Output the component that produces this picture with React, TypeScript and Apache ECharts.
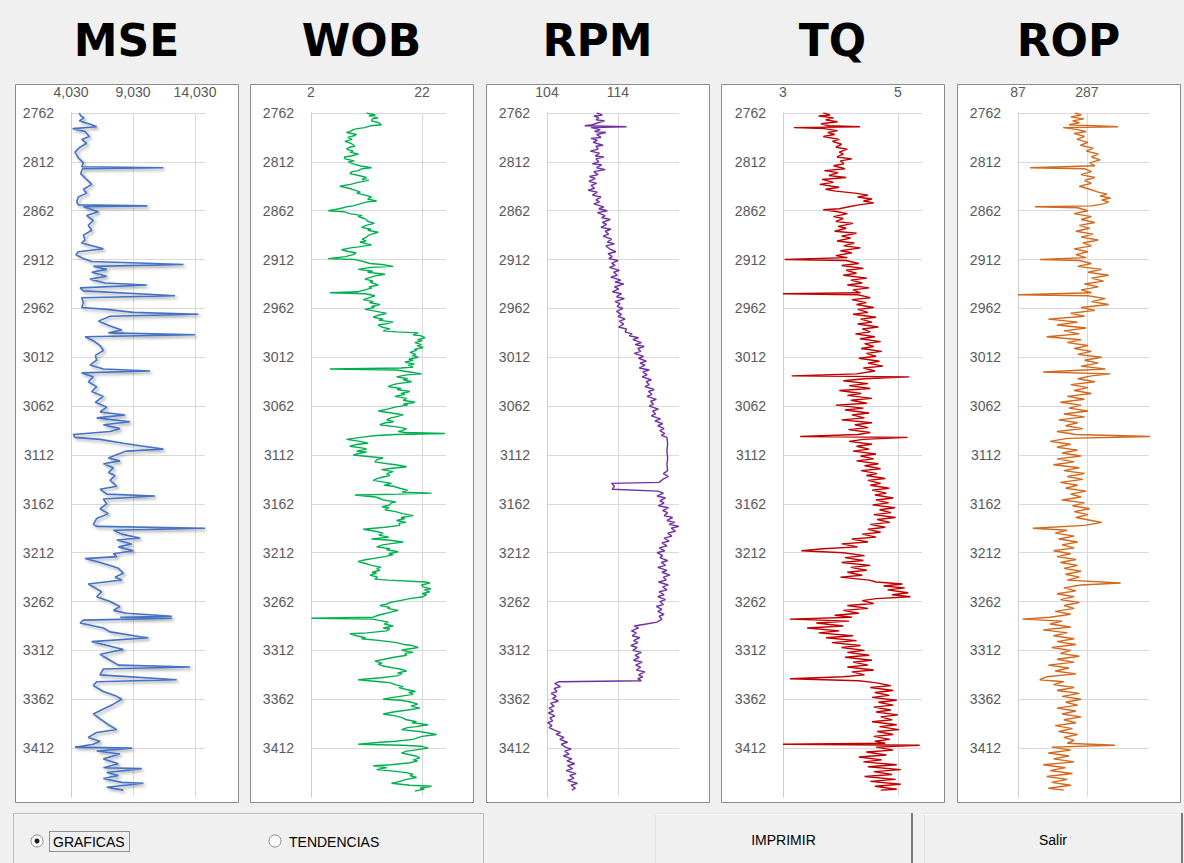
import React, { useEffect, useRef } from "react";
import * as echarts from "echarts";

// Depth axis (shared by every track)
const DEPTH_MIN = 2762;
const DEPTH_MAX = 3462;
const DEPTH_STEP = 50;

// Track titles and horizontal axis ranges
const TITLES = ["MSE", "WOB", "RPM", "TQ", "ROP"];
const AXIS_MIN = [4030, 2, 104, 3, 87];
const AXIS_STEP = [5000, 20, 10, 2, 200];
const AXIS_MAX = [14836, 26.3, 122.6, 5.42, 467];
const COLORS = ["#4472C4", "#00B050", "#7030A0", "#C00000", "#D2691E"];

// [depth, value] samples per track
const MSE_LOG: [number, number][] = [
  [2762, 4700], [2765, 4810], [2767, 5080], [2770, 4700], [2774, 5700], [2776, 6100], [2778, 4160], [2781, 5160],
  [2786, 5510], [2789, 4890], [2793, 5290], [2797, 4760], [2802, 4350], [2808, 4620], [2813, 5030], [2817, 4890],
  [2818, 11480], [2819, 4970], [2824, 4810], [2830, 5290], [2835, 5700], [2840, 5030], [2844, 5290], [2848, 4620],
  [2853, 4490], [2856, 4620], [2857, 10190], [2858, 5030], [2863, 6240], [2867, 5290], [2872, 5830], [2877, 5420],
  [2882, 5700], [2887, 5030], [2892, 5160], [2895, 4890], [2901, 6640], [2904, 4620], [2907, 4430], [2911, 5030],
  [2914, 5700], [2917, 13100], [2919, 5830], [2922, 6910], [2925, 5700], [2929, 6910], [2932, 5560], [2936, 6770],
  [2938, 10140], [2941, 4760], [2944, 5030], [2949, 12420], [2951, 4890], [2956, 5030], [2961, 4890], [2963, 6910],
  [2966, 9060], [2968, 14300], [2970, 7180], [2975, 6240], [2980, 7180], [2984, 8120], [2987, 7040], [2989, 14030],
  [2991, 5160], [2995, 5830], [3000, 6370], [3005, 6640], [3010, 6000], [3015, 6100], [3020, 5560], [3024, 6640],
  [3026, 10400], [3028, 4890], [3032, 5830], [3037, 5420], [3042, 6100], [3047, 5700], [3052, 6640], [3058, 6000],
  [3063, 6910], [3068, 6370], [3071, 8390], [3074, 6100], [3078, 8790], [3081, 6640], [3085, 7980], [3088, 7180],
  [3091, 4220], [3094, 4350], [3096, 6370], [3100, 8250], [3103, 9870], [3106, 11480], [3108, 8500], [3111, 7850],
  [3115, 7040], [3118, 7980], [3121, 6640], [3125, 7450], [3130, 7040], [3133, 7580], [3138, 7180], [3144, 7720],
  [3147, 6370], [3152, 6910], [3154, 10810], [3157, 6640], [3162, 6910], [3167, 6370], [3172, 7040], [3177, 6100],
  [3183, 5830], [3185, 6100], [3187, 14840], [3189, 7450], [3193, 8120], [3197, 9600], [3199, 7720], [3203, 8920],
  [3206, 7850], [3210, 9060], [3213, 7450], [3216, 7720], [3218, 5160], [3221, 6100], [3225, 7180], [3228, 7850],
  [3233, 8250], [3237, 7580], [3240, 8120], [3244, 5420], [3247, 5830], [3252, 6500], [3257, 6100], [3262, 7180],
  [3267, 7980], [3271, 7450], [3274, 8520], [3277, 12150], [3278, 8000], [3279, 12150], [3281, 5030], [3284, 4760],
  [3289, 6640], [3293, 7180], [3298, 9600], [3299, 10270], [3303, 5700], [3306, 6640], [3311, 8250], [3316, 6370],
  [3321, 7040], [3327, 7850], [3329, 13630], [3331, 6640], [3337, 6370], [3342, 12560], [3344, 6100], [3348, 5830],
  [3354, 6640], [3359, 7720], [3362, 8120], [3367, 7450], [3372, 6640], [3377, 5830], [3382, 6370], [3388, 7040],
  [3393, 7720], [3396, 6100], [3401, 5420], [3405, 6370], [3408, 5830], [3411, 4350], [3412, 8960], [3415, 6100],
  [3418, 7980], [3423, 6640], [3428, 7850], [3432, 6640], [3433, 9730], [3437, 6910], [3440, 7850], [3443, 6640],
  [3447, 8120], [3448, 9870], [3452, 6910], [3455, 8250],
];

const WOB_LOG: [number, number][] = [
  [2762, 12.0], [2764, 13.6], [2765, 12.4], [2767, 14.1], [2768, 13.0], [2770, 12.9], [2772, 14.2], [2774, 14.7],
  [2775, 12.8], [2777, 11.7], [2778, 10.4], [2779, 9.6], [2781, 9.0], [2782, 8.4], [2784, 10.2], [2785, 9.9],
  [2787, 8.6], [2789, 9.4], [2791, 8.1], [2793, 9.2], [2796, 9.9], [2797, 8.9], [2799, 8.4], [2801, 9.6],
  [2802, 9.0], [2804, 10.5], [2806, 9.2], [2807, 8.0], [2809, 8.1], [2811, 9.8], [2812, 8.7], [2814, 9.6],
  [2816, 10.8], [2818, 12.9], [2819, 11.2], [2821, 10.5], [2822, 9.4], [2824, 9.0], [2826, 10.6], [2828, 12.0],
  [2830, 11.2], [2831, 12.4], [2833, 10.5], [2835, 9.1], [2837, 7.2], [2839, 8.8], [2841, 9.9], [2843, 10.9],
  [2844, 10.2], [2846, 11.7], [2848, 12.9], [2850, 12.2], [2852, 13.8], [2853, 12.1], [2855, 10.8], [2857, 9.6],
  [2858, 8.4], [2860, 7.1], [2862, 5.1], [2863, 7.9], [2865, 9.0], [2867, 11.2], [2868, 10.5], [2870, 11.6],
  [2873, 12.3], [2875, 13.4], [2877, 11.9], [2879, 11.1], [2881, 12.8], [2882, 12.2], [2884, 14.1], [2886, 13.0],
  [2887, 12.4], [2889, 12.0], [2891, 11.2], [2893, 11.9], [2894, 10.8], [2896, 12.1], [2897, 12.9], [2899, 10.6],
  [2900, 9.1], [2902, 7.5], [2904, 8.9], [2905, 10.1], [2907, 9.6], [2909, 8.2], [2911, 5.1], [2912, 9.9],
  [2914, 11.4], [2916, 12.6], [2917, 14.8], [2919, 16.8], [2920, 12.9], [2922, 10.5], [2924, 13.1], [2925, 12.2],
  [2927, 15.3], [2929, 13.4], [2930, 12.8], [2932, 11.7], [2934, 13.2], [2935, 12.6], [2938, 14.1], [2940, 12.4],
  [2941, 13.0], [2943, 11.7], [2945, 10.4], [2946, 5.4], [2947, 11.8], [2949, 13.5], [2951, 12.6], [2953, 11.4],
  [2955, 13.2], [2956, 12.5], [2958, 14.4], [2960, 12.9], [2961, 13.4], [2963, 11.7], [2965, 13.8], [2967, 15.6],
  [2969, 14.1], [2971, 13.2], [2973, 15.0], [2974, 14.2], [2976, 16.8], [2978, 15.2], [2979, 14.1], [2981, 14.7],
  [2983, 16.2], [2985, 15.0], [2986, 17.5], [2987, 21.3], [2989, 20.4], [2990, 21.8], [2992, 22.5], [2994, 21.2],
  [2995, 22.0], [2997, 20.7], [2999, 21.9], [3000, 21.1], [3002, 22.2], [3004, 20.6], [3005, 21.0], [3007, 19.8],
  [3009, 20.9], [3010, 20.2], [3012, 21.3], [3014, 19.6], [3015, 20.4], [3017, 18.9], [3019, 20.6], [3020, 19.5],
  [3022, 20.4], [3023, 18.2], [3024, 5.4], [3025, 17.4], [3027, 19.8], [3029, 21.9], [3030, 19.2], [3032, 17.4],
  [3034, 19.4], [3035, 18.6], [3037, 20.1], [3039, 17.6], [3040, 16.8], [3042, 15.9], [3044, 18.2], [3045, 17.5],
  [3047, 19.8], [3049, 18.2], [3050, 18.9], [3052, 17.1], [3054, 19.2], [3056, 18.6], [3058, 20.7], [3060, 18.6],
  [3061, 19.4], [3063, 17.1], [3065, 15.8], [3067, 14.1], [3069, 16.5], [3071, 18.6], [3073, 17.2], [3074, 16.4],
  [3076, 15.6], [3078, 16.9], [3079, 15.4], [3081, 14.4], [3083, 17.1], [3085, 19.2], [3087, 18.4], [3088, 17.7],
  [3089, 19.0], [3090, 26.1], [3091, 17.2], [3092, 13.8], [3094, 10.9], [3096, 8.4], [3098, 10.8], [3100, 12.3],
  [3101, 10.4], [3103, 9.0], [3105, 11.4], [3106, 12.0], [3108, 10.2], [3109, 12.0], [3110, 11.0], [3112, 9.6],
  [3114, 13.2], [3115, 15.0], [3117, 13.8], [3119, 13.5], [3121, 15.8], [3122, 17.2], [3124, 19.2], [3126, 15.9],
  [3127, 14.7], [3129, 16.8], [3131, 15.6], [3133, 16.2], [3135, 14.6], [3136, 14.0], [3138, 13.2], [3140, 15.4],
  [3141, 16.5], [3143, 15.2], [3144, 16.8], [3146, 18.0], [3148, 19.4], [3150, 18.4], [3151, 23.7], [3152, 17.6],
  [3153, 9.9], [3155, 13.6], [3156, 14.2], [3158, 15.0], [3160, 17.3], [3161, 16.4], [3163, 16.2], [3165, 14.8],
  [3166, 16.0], [3168, 15.3], [3170, 17.2], [3172, 18.5], [3174, 20.4], [3176, 18.2], [3177, 18.9], [3179, 17.4],
  [3181, 19.1], [3182, 17.8], [3184, 18.0], [3186, 15.3], [3188, 11.4], [3190, 13.6], [3192, 15.0], [3194, 14.2],
  [3196, 16.0], [3198, 12.9], [3199, 15.8], [3201, 18.6], [3203, 16.1], [3204, 14.9], [3206, 13.8], [3208, 16.2],
  [3209, 15.6], [3211, 17.7], [3213, 16.0], [3214, 16.8], [3216, 15.3], [3218, 13.1], [3219, 12.0], [3221, 10.5],
  [3223, 11.8], [3225, 12.9], [3227, 14.6], [3228, 13.8], [3230, 14.4], [3232, 13.0], [3233, 13.8], [3235, 12.6],
  [3237, 14.0], [3239, 13.5], [3240, 15.9], [3242, 22.6], [3243, 23.4], [3245, 21.9], [3247, 22.2], [3249, 23.6],
  [3250, 22.4], [3252, 23.4], [3254, 22.0], [3255, 22.8], [3257, 22.2], [3259, 19.8], [3261, 18.0], [3263, 16.2],
  [3265, 15.4], [3266, 14.4], [3268, 16.2], [3269, 15.8], [3271, 17.7], [3273, 16.2], [3274, 15.6], [3276, 14.1],
  [3278, 13.2], [3279, 2.1], [3280, 12.9], [3281, 14.1], [3283, 15.9], [3285, 15.2], [3287, 16.8], [3289, 15.0],
  [3290, 16.2], [3292, 15.6], [3294, 12.1], [3295, 9.0], [3297, 10.2], [3299, 11.8], [3300, 11.1], [3302, 14.6],
  [3304, 17.4], [3306, 18.8], [3307, 20.2], [3309, 21.3], [3311, 19.0], [3312, 18.3], [3314, 20.4], [3315, 18.9],
  [3317, 19.2], [3319, 17.0], [3321, 15.2], [3323, 13.5], [3325, 14.8], [3326, 14.1], [3328, 15.0], [3330, 16.9],
  [3331, 18.0], [3333, 19.2], [3335, 17.6], [3336, 18.4], [3338, 17.4], [3340, 14.6], [3342, 10.5], [3344, 14.4],
  [3345, 16.2], [3347, 17.1], [3349, 18.6], [3350, 17.8], [3352, 19.2], [3354, 20.8], [3355, 19.6], [3357, 20.4],
  [3359, 18.0], [3360, 16.8], [3362, 15.0], [3363, 18.2], [3365, 20.1], [3367, 21.2], [3369, 20.0], [3371, 21.6],
  [3373, 19.4], [3375, 16.8], [3377, 15.0], [3379, 17.2], [3381, 18.5], [3383, 19.2], [3385, 21.0], [3386, 20.2],
  [3388, 23.1], [3390, 20.9], [3391, 19.4], [3393, 18.3], [3395, 21.4], [3396, 22.6], [3398, 24.6], [3400, 22.0],
  [3401, 21.4], [3403, 20.4], [3405, 17.2], [3406, 14.6], [3408, 10.5], [3409, 18.4], [3410, 21.8], [3412, 23.1],
  [3414, 20.6], [3415, 19.2], [3417, 18.3], [3419, 20.0], [3420, 20.8], [3422, 21.6], [3424, 20.4], [3425, 21.2],
  [3427, 19.8], [3429, 16.4], [3430, 13.2], [3432, 15.6], [3434, 13.8], [3435, 16.0], [3437, 19.2], [3439, 20.4],
  [3440, 19.8], [3442, 21.0], [3444, 19.2], [3446, 18.0], [3448, 16.5], [3450, 19.8], [3451, 23.7], [3453, 21.6],
  [3454, 22.4], [3456, 20.7],
];

const RPM_LOG: [number, number][] = [
  [2762, 111.0], [2764, 111.8], [2765, 110.6], [2767, 111.3], [2769, 110.9], [2770, 112.1], [2772, 111.2], [2774, 110.4],
  [2775, 109.3], [2776, 115.2], [2777, 110.2], [2779, 111.5], [2781, 110.7], [2782, 112.3], [2784, 111.0], [2787, 111.6],
  [2788, 110.2], [2790, 111.1], [2792, 110.5], [2795, 111.9], [2796, 110.9], [2799, 111.2], [2801, 110.1], [2803, 111.4],
  [2806, 110.8], [2807, 112.0], [2809, 110.9], [2812, 111.3], [2814, 110.4], [2815, 111.7], [2818, 111.0], [2820, 112.2],
  [2822, 110.6], [2825, 111.2], [2827, 110.0], [2829, 110.8], [2832, 109.9], [2834, 111.0], [2836, 110.2], [2839, 110.7],
  [2841, 109.8], [2843, 111.1], [2846, 110.4], [2848, 111.6], [2851, 110.9], [2853, 111.4], [2855, 110.6], [2858, 112.0],
  [2860, 111.3], [2862, 112.5], [2864, 111.1], [2867, 112.2], [2869, 111.7], [2871, 112.9], [2874, 111.8], [2876, 112.4],
  [2879, 111.6], [2881, 113.0], [2883, 112.2], [2886, 112.7], [2888, 111.9], [2891, 113.1], [2894, 112.5], [2896, 113.5],
  [2898, 112.3], [2901, 112.8], [2904, 113.7], [2906, 112.6], [2909, 113.2], [2911, 112.7], [2913, 114.0], [2916, 113.1],
  [2918, 113.6], [2920, 112.8], [2923, 114.2], [2925, 113.4], [2928, 113.9], [2930, 113.0], [2933, 114.4], [2935, 113.6],
  [2937, 114.8], [2940, 113.5], [2942, 114.1], [2945, 113.2], [2947, 114.5], [2950, 113.8], [2952, 114.9], [2955, 113.6],
  [2957, 114.3], [2960, 113.9], [2962, 114.7], [2965, 113.8], [2968, 114.5], [2970, 114.0], [2973, 115.0], [2975, 114.2],
  [2978, 114.8], [2981, 114.1], [2983, 115.2], [2986, 115.0], [2988, 116.0], [2990, 115.6], [2992, 116.9], [2994, 116.1],
  [2997, 117.3], [2999, 116.4], [3001, 117.7], [3003, 116.8], [3006, 117.2], [3008, 116.3], [3011, 117.6], [3013, 116.9],
  [3016, 118.0], [3018, 117.1], [3020, 117.8], [3023, 117.0], [3025, 118.4], [3027, 117.5], [3030, 118.1], [3032, 117.4],
  [3035, 118.7], [3037, 118.0], [3040, 118.4], [3042, 117.8], [3045, 119.1], [3047, 118.3], [3050, 118.8], [3052, 118.1],
  [3055, 119.4], [3057, 118.6], [3060, 119.0], [3062, 118.4], [3065, 119.7], [3067, 118.9], [3070, 119.3], [3072, 118.7],
  [3075, 120.0], [3077, 119.2], [3080, 120.3], [3082, 119.6], [3085, 120.5], [3087, 119.9], [3090, 120.6], [3092, 120.1],
  [3094, 120.9], [3100, 121.0], [3108, 120.9], [3115, 121.0], [3122, 120.9], [3128, 121.0], [3131, 120.4], [3134, 121.1],
  [3137, 120.3], [3140, 119.8], [3141, 113.1], [3144, 113.5], [3147, 113.2], [3149, 119.6], [3151, 120.4], [3154, 119.5],
  [3156, 120.7], [3159, 119.9], [3161, 120.5], [3164, 119.7], [3166, 121.1], [3169, 120.3], [3171, 121.0], [3174, 120.5],
  [3176, 121.7], [3179, 120.9], [3181, 122.0], [3183, 121.2], [3185, 122.6], [3187, 121.5], [3190, 122.1], [3192, 121.0],
  [3195, 121.6], [3197, 120.5], [3200, 121.2], [3202, 120.2], [3205, 120.9], [3207, 119.8], [3210, 120.6], [3212, 119.5],
  [3215, 120.3], [3217, 119.9], [3220, 121.0], [3222, 120.1], [3225, 120.7], [3227, 119.6], [3230, 120.9], [3232, 120.2],
  [3235, 121.3], [3237, 120.4], [3240, 120.8], [3242, 119.7], [3245, 121.1], [3247, 120.3], [3250, 120.9], [3252, 119.8],
  [3255, 120.5], [3257, 119.6], [3260, 120.7], [3262, 119.9], [3265, 120.4], [3267, 119.4], [3270, 120.2], [3272, 119.6],
  [3275, 120.5], [3277, 119.8], [3280, 120.2], [3283, 119.5], [3285, 118.0], [3287, 116.3], [3289, 116.9], [3292, 115.9],
  [3294, 116.6], [3297, 116.0], [3299, 117.1], [3302, 116.2], [3304, 116.8], [3307, 115.8], [3309, 116.7], [3312, 116.1],
  [3314, 117.3], [3317, 116.4], [3319, 117.0], [3322, 116.2], [3324, 117.4], [3327, 116.5], [3329, 117.2], [3332, 116.6],
  [3334, 117.8], [3337, 116.9], [3339, 117.5], [3341, 116.8], [3343, 117.3], [3344, 105.7], [3346, 105.1], [3349, 105.9],
  [3351, 105.0], [3354, 105.4], [3356, 104.6], [3359, 105.3], [3361, 104.8], [3364, 105.6], [3366, 104.5], [3369, 105.0],
  [3371, 104.3], [3374, 104.9], [3376, 104.2], [3379, 105.1], [3381, 104.4], [3384, 104.8], [3386, 104.1], [3389, 104.7],
  [3391, 104.3], [3394, 105.2], [3396, 105.9], [3398, 105.3], [3401, 106.4], [3403, 105.8], [3406, 106.9], [3408, 106.0],
  [3411, 106.6], [3413, 107.4], [3415, 106.5], [3418, 107.1], [3420, 106.3], [3423, 107.5], [3425, 106.8], [3428, 107.9],
  [3430, 106.9], [3433, 107.6], [3435, 106.7], [3438, 108.1], [3440, 107.2], [3443, 107.8], [3445, 106.9], [3448, 108.3],
  [3450, 107.4], [3453, 108.0], [3455, 107.5],
];

const TQ_LOG: [number, number][] = [
  [2762, 3.7], [2764, 3.82], [2765, 3.62], [2767, 3.88], [2769, 3.74], [2771, 3.95], [2773, 3.66], [2775, 3.8],
  [2776, 4.34], [2777, 3.19], [2778, 3.72], [2780, 3.95], [2782, 3.78], [2784, 3.9], [2786, 3.7], [2789, 3.98],
  [2791, 3.86], [2794, 4.02], [2797, 3.92], [2799, 4.12], [2802, 3.98], [2804, 4.05], [2807, 3.94], [2809, 4.2],
  [2811, 4.0], [2814, 4.06], [2816, 3.88], [2819, 4.08], [2821, 3.72], [2823, 3.96], [2826, 3.8], [2828, 4.1],
  [2830, 3.68], [2833, 3.88], [2835, 3.64], [2838, 3.98], [2840, 3.74], [2842, 3.92], [2844, 4.25], [2846, 4.48],
  [2848, 4.3], [2850, 4.55], [2852, 4.4], [2854, 4.58], [2856, 4.32], [2858, 4.15], [2860, 3.98], [2861, 3.7],
  [2863, 3.95], [2865, 4.12], [2868, 3.88], [2870, 4.05], [2873, 3.92], [2875, 4.22], [2878, 3.96], [2880, 4.1],
  [2883, 3.9], [2885, 4.28], [2888, 4.02], [2890, 4.18], [2893, 3.94], [2895, 4.24], [2898, 4.06], [2900, 4.35],
  [2903, 4.0], [2905, 4.2], [2908, 3.92], [2910, 4.12], [2912, 3.03], [2913, 4.1], [2916, 4.32], [2918, 4.02],
  [2921, 4.4], [2923, 4.1], [2926, 4.28], [2928, 4.05], [2931, 4.46], [2933, 4.18], [2936, 4.38], [2938, 4.12],
  [2941, 4.5], [2943, 4.22], [2946, 4.35], [2947, 3.0], [2948, 4.3], [2951, 4.52], [2953, 4.2], [2956, 4.45],
  [2958, 4.28], [2961, 4.58], [2963, 4.3], [2966, 4.48], [2968, 4.22], [2971, 4.62], [2973, 4.35], [2976, 4.55],
  [2978, 4.3], [2981, 4.66], [2983, 4.38], [2986, 4.52], [2988, 4.26], [2991, 4.6], [2993, 4.34], [2996, 4.7],
  [2998, 4.42], [3001, 4.58], [3003, 4.36], [3006, 4.72], [3008, 4.45], [3011, 4.62], [3013, 4.32], [3016, 4.68],
  [3018, 4.48], [3021, 4.74], [3023, 4.4], [3026, 4.6], [3029, 4.28], [3031, 3.15], [3032, 5.2], [3034, 4.42],
  [3036, 4.05], [3039, 4.48], [3041, 4.15], [3044, 4.52], [3046, 3.98], [3049, 4.36], [3051, 4.12], [3054, 4.55],
  [3056, 4.18], [3059, 4.46], [3061, 3.92], [3064, 4.4], [3066, 4.08], [3069, 4.5], [3071, 4.2], [3074, 4.42],
  [3076, 4.02], [3079, 4.55], [3081, 4.25], [3084, 4.48], [3086, 4.14], [3089, 4.52], [3091, 4.3], [3093, 3.3],
  [3094, 5.17], [3096, 4.4], [3098, 4.15], [3101, 4.55], [3103, 4.28], [3106, 4.5], [3108, 4.22], [3111, 4.62],
  [3113, 4.35], [3116, 4.58], [3118, 4.28], [3121, 4.66], [3123, 4.42], [3126, 4.7], [3128, 4.36], [3131, 4.64],
  [3133, 4.45], [3136, 4.78], [3138, 4.48], [3141, 4.7], [3143, 4.52], [3146, 4.85], [3148, 4.55], [3151, 4.8],
  [3153, 4.6], [3156, 4.92], [3158, 4.62], [3161, 4.84], [3163, 4.56], [3166, 4.95], [3168, 4.68], [3171, 4.88],
  [3173, 4.58], [3176, 4.96], [3178, 4.64], [3181, 4.86], [3183, 4.52], [3186, 4.78], [3188, 4.48], [3191, 4.7],
  [3193, 4.38], [3196, 4.62], [3198, 4.2], [3201, 4.48], [3203, 4.02], [3206, 4.3], [3208, 3.7], [3210, 3.32],
  [3212, 4.05], [3215, 4.42], [3217, 4.08], [3220, 4.4], [3222, 4.02], [3225, 4.52], [3227, 4.18], [3230, 4.46],
  [3232, 4.12], [3235, 4.38], [3237, 4.0], [3240, 4.5], [3242, 4.62], [3244, 5.08], [3246, 4.75], [3248, 5.12],
  [3250, 4.82], [3253, 5.18], [3255, 4.9], [3257, 5.22], [3259, 4.62], [3261, 4.38], [3264, 4.58], [3266, 4.12],
  [3269, 4.48], [3271, 4.05], [3274, 4.32], [3276, 3.9], [3278, 4.2], [3280, 3.12], [3282, 4.15], [3284, 3.58],
  [3287, 4.05], [3289, 3.42], [3292, 3.98], [3294, 3.62], [3297, 4.22], [3299, 3.75], [3302, 4.28], [3304, 3.85],
  [3307, 4.35], [3309, 4.02], [3312, 4.42], [3314, 4.12], [3317, 4.5], [3319, 4.08], [3322, 4.55], [3324, 4.22],
  [3327, 4.48], [3329, 4.12], [3332, 4.58], [3334, 4.2], [3337, 4.42], [3339, 4.05], [3341, 3.12], [3343, 4.32],
  [3345, 4.6], [3348, 4.88], [3350, 4.52], [3353, 4.92], [3355, 4.6], [3358, 4.85], [3360, 4.55], [3363, 4.98],
  [3365, 4.66], [3368, 4.92], [3370, 4.58], [3373, 4.88], [3375, 4.62], [3378, 5.0], [3380, 4.7], [3383, 4.9],
  [3385, 4.55], [3388, 4.98], [3390, 4.68], [3393, 5.02], [3395, 4.64], [3398, 4.92], [3400, 4.58], [3403, 4.86],
  [3405, 4.6], [3407, 4.78], [3408, 3.0], [3409, 5.38], [3411, 4.62], [3414, 4.92], [3416, 4.45], [3419, 4.8],
  [3421, 4.32], [3424, 4.72], [3426, 4.4], [3429, 4.98], [3431, 4.48], [3434, 5.05], [3436, 4.58], [3439, 4.9],
  [3441, 4.42], [3444, 4.96], [3446, 4.52], [3449, 5.05], [3451, 4.6], [3454, 4.98], [3455, 4.7],
];

const ROP_LOG: [number, number][] = [
  [2762, 252], [2764, 270], [2766, 240], [2768, 278], [2770, 245], [2772, 265], [2774, 235], [2776, 377],
  [2777, 218], [2779, 260], [2781, 285], [2783, 250], [2786, 280], [2789, 258], [2792, 290], [2795, 268],
  [2798, 305], [2801, 285], [2804, 320], [2807, 300], [2810, 325], [2813, 295], [2816, 310], [2818, 122],
  [2819, 280], [2822, 300], [2825, 270], [2828, 310], [2831, 280], [2834, 300], [2837, 265], [2840, 295],
  [2843, 320], [2845, 345], [2847, 325], [2849, 355], [2851, 330], [2853, 350], [2855, 335], [2857, 300],
  [2858, 136], [2859, 260], [2862, 290], [2865, 250], [2868, 300], [2871, 270], [2874, 310], [2877, 265],
  [2880, 295], [2883, 255], [2886, 305], [2889, 270], [2892, 320], [2895, 275], [2898, 300], [2901, 250],
  [2904, 290], [2907, 255], [2910, 285], [2912, 151], [2913, 265], [2916, 300], [2919, 260], [2922, 330],
  [2925, 290], [2928, 350], [2931, 300], [2934, 335], [2937, 280], [2940, 320], [2943, 270], [2946, 300],
  [2948, 87], [2949, 290], [2952, 340], [2955, 300], [2958, 350], [2961, 270], [2964, 310], [2967, 240],
  [2970, 280], [2973, 175], [2976, 260], [2979, 200], [2982, 285], [2985, 220], [2988, 265], [2991, 170],
  [2994, 270], [2997, 230], [3000, 290], [3003, 250], [3006, 300], [3009, 260], [3012, 330], [3015, 280],
  [3018, 320], [3021, 270], [3024, 340], [3027, 160], [3029, 355], [3031, 300], [3034, 260], [3037, 310],
  [3040, 240], [3043, 290], [3046, 250], [3049, 300], [3052, 230], [3055, 280], [3058, 210], [3061, 270],
  [3064, 235], [3067, 290], [3070, 220], [3073, 280], [3076, 205], [3079, 260], [3082, 225], [3085, 275],
  [3088, 200], [3091, 255], [3093, 470], [3095, 230], [3098, 180], [3101, 240], [3104, 200], [3107, 260],
  [3110, 215], [3113, 270], [3116, 200], [3119, 250], [3122, 190], [3125, 265], [3128, 220], [3131, 280],
  [3134, 230], [3137, 275], [3140, 210], [3143, 260], [3146, 225], [3149, 285], [3152, 240], [3155, 270],
  [3158, 215], [3161, 280], [3164, 245], [3167, 295], [3170, 250], [3173, 290], [3176, 255], [3179, 300],
  [3181, 330], [3184, 280], [3187, 130], [3189, 230], [3192, 195], [3195, 250], [3198, 205], [3201, 260],
  [3204, 215], [3207, 250], [3210, 190], [3213, 240], [3216, 200], [3219, 255], [3222, 210], [3225, 260],
  [3228, 220], [3231, 270], [3234, 225], [3237, 265], [3240, 230], [3243, 385], [3245, 270], [3248, 220],
  [3251, 255], [3254, 200], [3257, 250], [3260, 210], [3263, 265], [3266, 220], [3269, 250], [3272, 195],
  [3275, 240], [3278, 180], [3280, 100], [3282, 215], [3285, 180], [3288, 240], [3291, 160], [3294, 230],
  [3297, 190], [3300, 250], [3303, 200], [3306, 255], [3309, 185], [3312, 240], [3315, 210], [3318, 265],
  [3321, 200], [3324, 250], [3327, 175], [3330, 235], [3333, 195], [3336, 255], [3339, 170], [3342, 150],
  [3344, 220], [3347, 190], [3350, 250], [3353, 200], [3356, 265], [3359, 215], [3362, 270], [3365, 225],
  [3368, 260], [3371, 200], [3374, 255], [3377, 215], [3380, 270], [3383, 220], [3386, 255], [3389, 195],
  [3392, 245], [3395, 205], [3398, 260], [3401, 220], [3404, 250], [3407, 230], [3409, 368], [3411, 185],
  [3414, 240], [3417, 175], [3420, 235], [3423, 190], [3426, 250], [3429, 160], [3432, 225], [3435, 180],
  [3438, 245], [3441, 170], [3444, 230], [3447, 185], [3450, 240], [3453, 175], [3455, 220],
];

const LOGS = [MSE_LOG, WOB_LOG, RPM_LOG, TQ_LOG, ROP_LOG];

// Page layout (pixels)
const PANEL_X = [15, 250, 486, 721, 957];
const PANEL_W = 223;
const PANEL_TOP = 84;
const PANEL_H = 718;
const PLOT_LEFT = [71, 311, 547, 783, 1018];
const PLOT_RIGHT = [205, 446, 679, 922, 1149];
const PLOT_TOP = 113;
const PLOT_BOTTOM = 797;

const LABEL_FONT = "'Liberation Sans', Arial, sans-serif";
const UI_FONT = "'Liberation Sans', Arial, sans-serif";

function buildOption() {
  const grid = TITLES.map((_, i) => ({
    left: PLOT_LEFT[i],
    top: PLOT_TOP,
    width: PLOT_RIGHT[i] - PLOT_LEFT[i],
    height: PLOT_BOTTOM - PLOT_TOP,
  }));

  const xAxis = TITLES.map((_, i) => ({
    type: "value",
    gridIndex: i,
    position: "top",
    min: AXIS_MIN[i],
    max: AXIS_MAX[i],
    interval: AXIS_STEP[i],
    axisLine: { show: false },
    axisTick: { show: false },
    axisLabel: {
      color: "#595959",
      fontSize: 14,
      fontFamily: LABEL_FONT,
      margin: 14,
      showMaxLabel: false,
      formatter: (v: number) => v.toLocaleString("en-US"),
    },
    splitLine: {
      show: true,
      showMinLine: false,
      showMaxLine: false,
      lineStyle: { color: "#d9d9d9", width: 1 },
    },
  }));

  const yAxis = TITLES.map((_, i) => ({
    type: "value",
    gridIndex: i,
    inverse: true,
    min: DEPTH_MIN,
    max: DEPTH_MAX,
    interval: DEPTH_STEP,
    axisLine: { show: true, lineStyle: { color: "#c9cdd6", width: 1 } },
    axisTick: { show: false },
    axisLabel: {
      color: "#595959",
      fontSize: 14,
      fontFamily: LABEL_FONT,
      margin: 17,
      showMaxLabel: false,
      formatter: (v: number) => String(v),
    },
    splitLine: {
      show: true,
      showMinLine: true,
      showMaxLine: false,
      lineStyle: { color: "#d9d9d9", width: 1 },
    },
  }));

  const series = LOGS.map((log, i) => ({
    type: "line",
    name: TITLES[i],
    xAxisIndex: i,
    yAxisIndex: i,
    data: log.map(([d, v]) => [v, d]),
    symbol: "none",
    showSymbol: false,
    clip: true,
    lineStyle:
      i === 0
        ? {
            color: COLORS[i],
            width: 1.6,
            shadowColor: "rgba(0,0,0,0.35)",
            shadowBlur: 3,
            shadowOffsetX: 2,
            shadowOffsetY: 2,
          }
        : { color: COLORS[i], width: 1.4 },
    z: 3,
  }));

  const graphic: any[] = [];
  TITLES.forEach((t, i) => {
    graphic.push({
      type: "rect",
      z: 0,
      shape: { x: PANEL_X[i] + 0.5, y: PANEL_TOP + 0.5, width: PANEL_W, height: PANEL_H },
      style: { fill: "#ffffff", stroke: "#8c8c8c", lineWidth: 1 },
    });
    graphic.push({
      type: "text",
      z: 1,
      x: PANEL_X[i] + PANEL_W / 2,
      y: 40,
      style: {
        text: t,
        fill: "#000000",
        font: "bold 44px 'DejaVu Sans', Verdana, sans-serif",
        textAlign: "center",
        textVerticalAlign: "middle",
      },
    });
  });

  // option group box with two radio buttons
  graphic.push({
    type: "rect",
    z: 0,
    shape: { x: 13.5, y: 813.5, width: 470, height: 70 },
    style: { fill: "none", stroke: "#bdbdbd", lineWidth: 1 },
  });
  graphic.push({
    type: "circle",
    z: 1,
    shape: { cx: 37, cy: 841, r: 6 },
    style: { fill: "#ffffff", stroke: "#8a8a8a", lineWidth: 1 },
  });
  graphic.push({
    type: "circle",
    z: 2,
    shape: { cx: 37, cy: 841, r: 2.5 },
    style: { fill: "#1a1a1a" },
  });
  graphic.push({
    type: "rect",
    z: 1,
    shape: { x: 49.5, y: 831.5, width: 80, height: 20 },
    style: { fill: "none", stroke: "#333333", lineWidth: 1, lineDash: [1, 1] },
  });
  graphic.push({
    type: "text",
    z: 2,
    x: 53,
    y: 842,
    style: { text: "GRAFICAS", fill: "#000000", font: `14px ${UI_FONT}`, textVerticalAlign: "middle" },
  });
  graphic.push({
    type: "circle",
    z: 1,
    shape: { cx: 275, cy: 841, r: 6 },
    style: { fill: "#ffffff", stroke: "#8a8a8a", lineWidth: 1 },
  });
  graphic.push({
    type: "text",
    z: 2,
    x: 289,
    y: 842,
    style: { text: "TENDENCIAS", fill: "#000000", font: `14px ${UI_FONT}`, textVerticalAlign: "middle" },
  });

  // push buttons
  const buttons = [
    { x: 655, w: 257, label: "IMPRIMIR" },
    { x: 924, w: 258, label: "Salir" },
  ];
  buttons.forEach((b) => {
    graphic.push({
      type: "rect",
      z: 0,
      shape: { x: b.x + 0.5, y: 813.5, width: b.w, height: 60 },
      style: { fill: "#f0f0f0", stroke: "#e3e3e3", lineWidth: 1 },
    });
    graphic.push({
      type: "line",
      z: 1,
      shape: { x1: b.x + b.w, y1: 813, x2: b.x + b.w, y2: 863 },
      style: { stroke: "#7a7a7a", lineWidth: 2 },
    });
    graphic.push({
      type: "line",
      z: 1,
      shape: { x1: b.x + 1, y1: 814.5, x2: b.x + b.w - 1, y2: 814.5 },
      style: { stroke: "#ffffff", lineWidth: 1 },
    });
    graphic.push({
      type: "text",
      z: 2,
      x: b.x + b.w / 2,
      y: 840,
      style: {
        text: b.label,
        fill: "#000000",
        font: `14px ${UI_FONT}`,
        textAlign: "center",
        textVerticalAlign: "middle",
      },
    });
  });

  return {
    animation: false,
    backgroundColor: "#f0f0f0",
    grid,
    xAxis,
    yAxis,
    series,
    graphic,
  };
}

export default function App() {
  const ref = useRef<HTMLDivElement>(null);
  useEffect(() => {
    if (!ref.current) return;
    const chart = echarts.init(ref.current, undefined, { renderer: "svg" });
    chart.setOption(buildOption() as any);
    return () => chart.dispose();
  }, []);
  return (
    <div
      ref={ref}
      style={{ position: "fixed", left: 0, top: 0, width: 1184, height: 863 }}
    />
  );
}
